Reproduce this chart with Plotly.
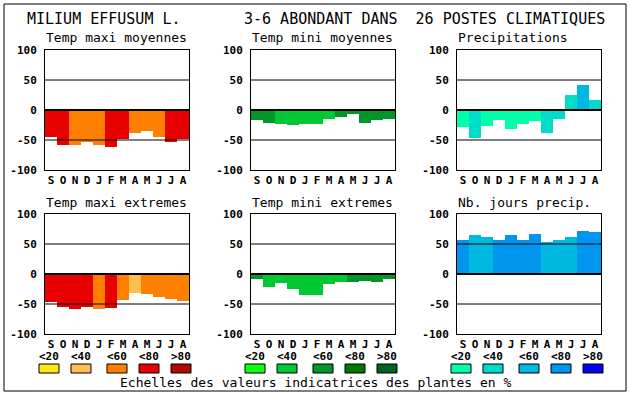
import plotly.graph_objects as go

W, H = 630, 394

months = ["S", "O", "N", "D", "J", "F", "M", "A", "M", "J", "J", "A"]

panel_titles = ["Temp maxi moyennes", "Temp mini moyennes", "Precipitations",
                "Temp maxi extremes", "Temp mini extremes", "Nb. jours precip."]

tmax_moy = [-45, -58, -58, -53, -58, -62, -48, -38, -35, -45, -53, -48]
tmax_moy_cls = [3, 3, 2, 2, 2, 3, 3, 2, 2, 2, 3, 3]
tmin_moy = [-17, -22, -23, -25, -23, -23, -15, -12, -7, -22, -17, -15]
tmin_moy_cls = [2, 2, 1, 1, 1, 1, 1, 2, 2, 2, 2, 2]
precip = [-28, -47, -27, -17, -32, -23, -18, -38, -15, 25, 42, 17]
precip_cls = [0, 1, 0, 0, 0, 0, 0, 1, 1, 1, 2, 1]
tmax_ext = [-47, -55, -58, -55, -58, -57, -43, -32, -33, -38, -42, -45]
tmax_ext_cls = [3, 3, 3, 3, 2, 3, 2, 1, 2, 2, 2, 2]
tmin_ext = [-8, -22, -15, -25, -35, -35, -17, -13, -13, -12, -13, -8]
tmin_ext_cls = [2, 1, 1, 1, 1, 1, 1, 1, 2, 2, 2, 2]
njours = [57, 65, 62, 57, 65, 57, 67, 53, 57, 62, 72, 70]
njours_cls = [3, 2, 2, 3, 3, 3, 3, 2, 2, 2, 3, 3]

pal_temp_max = ["#ffe619", "#ffbe50", "#ff8000", "#e80000", "#b00a00"]
pal_temp_min = ["#10ff10", "#00c832", "#009628", "#007800", "#006420"]
pal_water = ["#00ffaa", "#00dcc8", "#00b9e1", "#0096f0", "#0000ff"]
class_labels = ["&lt;20", "&lt;40", "&lt;60", "&lt;80", "&gt;80"]
yticks = [100, 50, 0, -50, -100]

title_left = "MILIUM EFFUSUM L."
title_right = "3-6 ABONDANT DANS  26 POSTES CLIMATIQUES"
footer = "Echelles des valeurs indicatrices des plantes en %"

panels = [
    (tmax_moy, tmax_moy_cls, pal_temp_max),
    (tmin_moy, tmin_moy_cls, pal_temp_min),
    (precip, precip_cls, pal_water),
    (tmax_ext, tmax_ext_cls, pal_temp_max),
    (tmin_ext, tmin_ext_cls, pal_temp_min),
    (njours, njours_cls, pal_water),
]

FONT = "DejaVu Sans Mono"
col_left = [45, 251, 457]
pw = 144
row_top = [50, 214]
ph = 120


def px(x):
    return x / W


def py(y):
    return 1 - y / H


fig = go.Figure()
layout = {}
shapes = []
annotations = []

for i, (vals, cls, pal) in enumerate(panels):
    r, c = divmod(i, 3)
    n = i + 1
    xa = "x" if n == 1 else f"x{n}"
    ya = "y" if n == 1 else f"y{n}"
    fig.add_trace(go.Bar(
        x=list(range(12)), y=vals, marker=dict(color=[pal[k] for k in cls], line=dict(width=0)),
        width=1.0, xaxis=xa, yaxis=ya, showlegend=False, hoverinfo="skip"))
    x0, x1 = col_left[c], col_left[c] + pw
    y0, y1 = row_top[r], row_top[r] + ph
    layout[f"xaxis{'' if n == 1 else n}"] = dict(
        domain=[px(x0), px(x1)], range=[-0.5, 11.5], anchor=ya, automargin=False,
        tickvals=list(range(12)), ticktext=months, ticks="",
        showline=True, mirror=True, linecolor="black", linewidth=1,
        showgrid=False, zeroline=False, fixedrange=True,
        tickfont=dict(family=FONT, size=11, color="black", weight="bold"),
        ticklabelstandoff=0)
    layout[f"yaxis{'' if n == 1 else n}"] = dict(
        domain=[py(y1), py(y0)], range=[-100, 100], anchor=xa, automargin=False,
        tickvals=yticks, ticktext=[str(v) for v in yticks], ticks="",
        showline=True, mirror=True, linecolor="black", linewidth=1,
        showgrid=False, zeroline=False, fixedrange=True,
        tickfont=dict(family=FONT, size=11, color="black", weight="bold"),
        ticklabelstandoff=5)
    for gv in (50, 0, -50):
        shapes.append(dict(type="line", xref=f"{xa} domain", yref=ya, x0=0, x1=1, y0=gv, y1=gv,
                           line=dict(color="black", width=2 if gv == 0 else 1), layer="above"))
    annotations.append(dict(text=panel_titles[i], xref="paper", yref="paper",
                            x=px(x0 - 1), y=py(y0 - 12), xanchor="left", yanchor="middle",
                            showarrow=False, font=dict(family=FONT, size=13, color="black")))
    if r == 0:
        box_off = [-6, 26, 62, 94, 126]
        for k in range(5):
            bx = x0 + box_off[k]
            shapes.append(dict(type="rect", xref="paper", yref="paper",
                               x0=px(bx), x1=px(bx + 20), y0=py(373), y1=py(364),
                               fillcolor=pal[k], line=dict(color="black", width=1)))
            annotations.append(dict(text=class_labels[k], xref="paper", yref="paper",
                                    x=px(bx + 10), y=py(356), xanchor="center", yanchor="middle",
                                    showarrow=False,
                                    font=dict(family=FONT, size=11, color="black", weight="bold")))

annotations.append(dict(text=title_left, xref="paper", yref="paper", x=px(25), y=py(19),
                        xanchor="left", yanchor="middle", showarrow=False,
                        font=dict(family=FONT, size=15, color="black")))
annotations.append(dict(text=title_right, xref="paper", yref="paper", x=px(242), y=py(19),
                        xanchor="left", yanchor="middle", showarrow=False,
                        font=dict(family=FONT, size=15, color="black")))
annotations.append(dict(text=footer, xref="paper", yref="paper", x=px(316), y=py(382),
                        xanchor="center", yanchor="middle", showarrow=False,
                        font=dict(family=FONT, size=13, color="black")))

shapes.append(dict(type="rect", xref="paper", yref="paper", x0=px(4), x1=px(626),
                   y0=py(391), y1=py(4), line=dict(color="black", width=1)))

fig.update_layout(width=W, height=H,
                  margin=dict(l=0, r=0, t=0, b=0, pad=0, autoexpand=False),
                  paper_bgcolor="white", plot_bgcolor="white", bargap=0,
                  shapes=shapes, annotations=annotations, **layout)

post = (
    "document.documentElement.style.margin='0';"
    "document.documentElement.style.overflow='hidden';"
    "document.body.style.margin='0';document.body.style.padding='0';"
    "document.body.style.overflow='hidden';"
    "var gd=document.getElementById('{plot_id}');"
    "gd.style.position='fixed';gd.style.left='0px';gd.style.top='0px';"
)

fig.write_html("out.html", config={"displayModeBar": False}, post_script=post)
